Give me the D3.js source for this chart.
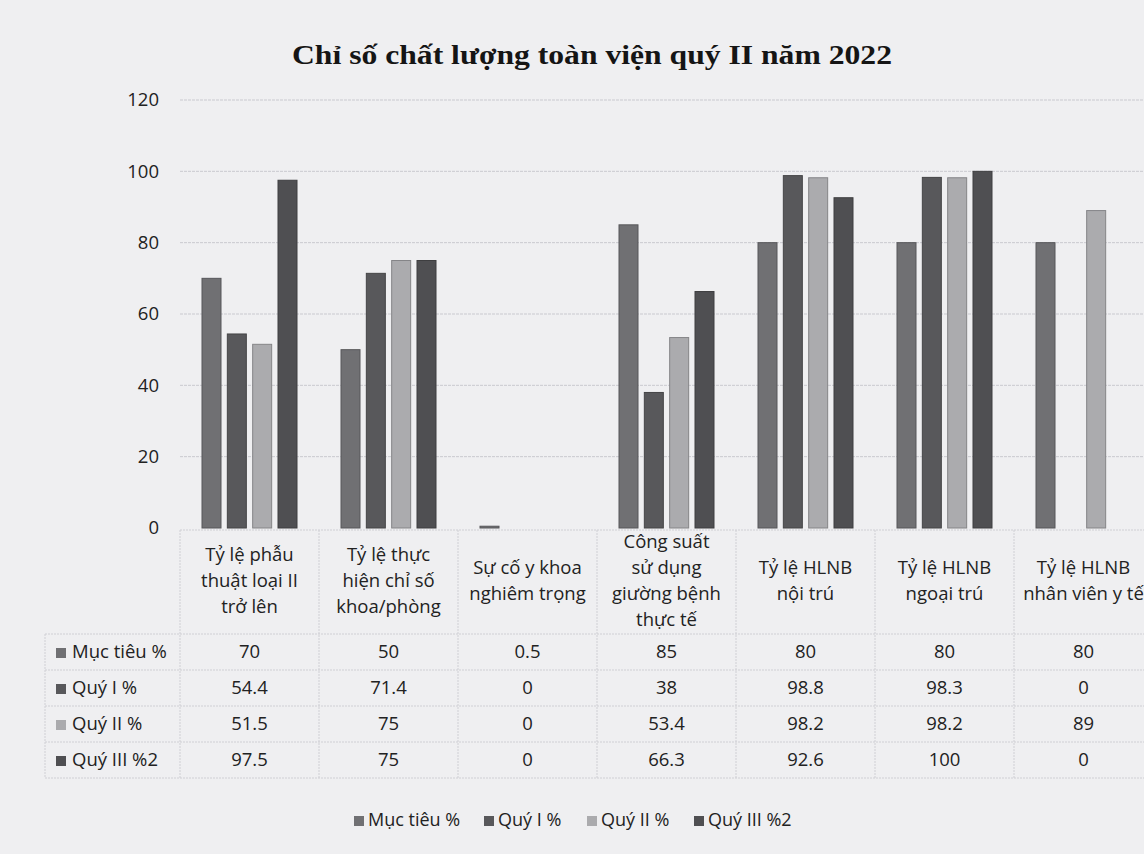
<!DOCTYPE html>
<html lang="vi">
<head>
    <meta charset="UTF-8">
    <title>Chỉ số chất lượng toàn viện quý II năm 2022</title>
    <script src="https://d3js.org/d3.v7.min.js"></script>
    <style>
        body { margin: 0; background: #efeff1; }
        svg { display: block; }
        .title { font-family: "Liberation Serif", serif; font-weight: bold; font-size: 28px; fill: #151515; }
        .lbl { font-family: "Open Sans", "Noto Sans", sans-serif; font-size: 18.5px; fill: #222; }
        .grid line { stroke: #c9c9cf; stroke-dasharray: 3 1; }
        .tbl line { stroke: #cfcfd4; stroke-dasharray: 2 1; }
    </style>
</head>
<body>
    <div id="chart"></div>
    <script>
        // data
        const categories = [
            "Tỷ lệ phẫu\nthuật loại II\ntrở lên",
            "Tỷ lệ thực\nhiện chỉ số\nkhoa/phòng",
            "Sự cố y khoa\nnghiêm trọng",
            "Công suất\nsử dụng\ngiường bệnh\nthực tế",
            "Tỷ lệ HLNB\nnội trú",
            "Tỷ lệ HLNB\nngoại trú",
            "Tỷ lệ HLNB\nnhân viên y tế"
        ];
        const seriesNames = ["Mục tiêu %", "Quý I %", "Quý II %", "Quý III %2"];
        const mucTieu = [70, 50, 0.5, 85, 80, 80, 80];
        const quyI    = [54.4, 71.4, 0, 38, 98.8, 98.3, 0];
        const quyII   = [51.5, 75, 0, 53.4, 98.2, 98.2, 89];
        const quyIII  = [97.5, 75, 0, 66.3, 92.6, 100, 0];
        const yTicks  = [0, 20, 40, 60, 80, 100, 120];

        const seriesValues = [mucTieu, quyI, quyII, quyIII];
        const colors = ["#707073", "#58585b", "#ababae", "#4f4f52"];

        const W = 1144, H = 854;
        const plot = {left: 180, right: 1153, top: 100, bottom: 528};
        const rowTop = 634, rowH = 36, tableLeft = 45;

        const svg = d3.select("#chart").append("svg")
            .attr("width", W).attr("height", H);

        svg.append("text").attr("class", "title")
            .attr("x", 592).attr("y", 64)
            .attr("text-anchor", "middle")
            .attr("textLength", 600)
            .attr("lengthAdjust", "spacingAndGlyphs")
            .text("Chỉ số chất lượng toàn viện quý II năm 2022");

        const x0 = d3.scaleBand()
            .domain(categories)
            .range([plot.left, plot.right]);

        const x1 = d3.scaleBand()
            .domain(seriesNames)
            .range([22, 117])
            .paddingInner(0.25);

        const y = d3.scaleLinear()
            .domain([0, 120])
            .range([plot.bottom, plot.top]);

        // gridlines
        svg.append("g").attr("class", "grid")
            .selectAll("line").data(yTicks.slice(1)).enter().append("line")
            .attr("x1", plot.left).attr("x2", plot.right)
            .attr("y1", d => y(d)).attr("y2", d => y(d));

        // y axis labels
        svg.append("g").selectAll("text").data(yTicks).enter().append("text")
            .attr("class", "lbl")
            .attr("x", 159).attr("y", d => y(d)).attr("dy", "0.35em")
            .attr("text-anchor", "end")
            .text(d => d);

        // bars
        const groups = svg.append("g").selectAll("g").data(categories).enter().append("g")
            .attr("transform", d => `translate(${x0(d)},0)`);

        groups.selectAll("rect")
            .data((c, i) => seriesNames.map((s, j) => ({s, j, v: seriesValues[j][i]})))
            .enter().append("rect")
            .filter(d => d.v > 0)
            .attr("x", d => x1(d.s))
            .attr("width", x1.bandwidth())
            .attr("y", d => y(d.v))
            .attr("height", d => Math.max(1, y(0) - y(d.v)))
            .attr("fill", d => colors[d.j])
            .attr("stroke", d => d3.color(colors[d.j]).darker(0.7))
            .attr("stroke-width", 1);

        // table lines
        const tbl = svg.append("g").attr("class", "tbl");
        tbl.append("line")
            .attr("x1", plot.left).attr("x2", W)
            .attr("y1", plot.bottom + 2).attr("y2", plot.bottom + 2);
        d3.range(5).forEach(r => {
            tbl.append("line")
                .attr("x1", tableLeft).attr("x2", W)
                .attr("y1", rowTop + r * rowH).attr("y2", rowTop + r * rowH);
        });
        categories.concat([null]).forEach((c, i) => {
            const xx = plot.left + i * x0.bandwidth();
            tbl.append("line")
                .attr("x1", xx).attr("x2", xx)
                .attr("y1", plot.bottom + 2).attr("y2", rowTop + 4 * rowH);
        });
        tbl.append("line")
            .attr("x1", tableLeft).attr("x2", tableLeft)
            .attr("y1", rowTop).attr("y2", rowTop + 4 * rowH);

        // category labels
        const lineH = 26;
        svg.append("g").selectAll("text").data(categories).enter().append("text")
            .attr("class", "lbl")
            .attr("text-anchor", "middle")
            .attr("x", d => x0(d) + x0.bandwidth() / 2)
            .each(function(d) {
                const lines = d.split("\n");
                const startY = 581 - (lines.length - 1) * lineH / 2;
                d3.select(this).selectAll("tspan").data(lines).enter().append("tspan")
                    .attr("x", x0(d) + x0.bandwidth() / 2)
                    .attr("y", (l, k) => startY + k * lineH)
                    .attr("dy", "0.35em")
                    .text(l => l);
            });

        // table rows
        seriesNames.forEach((s, j) => {
            const cy = rowTop + j * rowH + rowH / 2;
            svg.append("rect")
                .attr("x", 56).attr("y", cy - 4).attr("width", 10).attr("height", 10)
                .attr("fill", colors[j]);
            svg.append("text").attr("class", "lbl")
                .attr("x", 72).attr("y", cy).attr("dy", "0.35em")
                .text(s);
            categories.forEach((c, i) => {
                svg.append("text").attr("class", "lbl")
                    .attr("x", x0(c) + x0.bandwidth() / 2).attr("y", cy).attr("dy", "0.35em")
                    .attr("text-anchor", "middle")
                    .text(seriesValues[j][i]);
            });
        });

        // legend
        const legendX = [354, 484, 587, 694];
        const legend = svg.append("g").selectAll("g").data(seriesNames).enter().append("g")
            .attr("transform", (d, j) => `translate(${legendX[j]},820)`);
        legend.append("rect")
            .attr("x", 0).attr("y", -4).attr("width", 10).attr("height", 10)
            .attr("fill", (d, j) => colors[j]);
        legend.append("text").attr("class", "lbl")
            .attr("x", 14).attr("dy", "0.35em")
            .style("font-size", "18px")
            .text(d => d);
    </script>
</body>
</html>
